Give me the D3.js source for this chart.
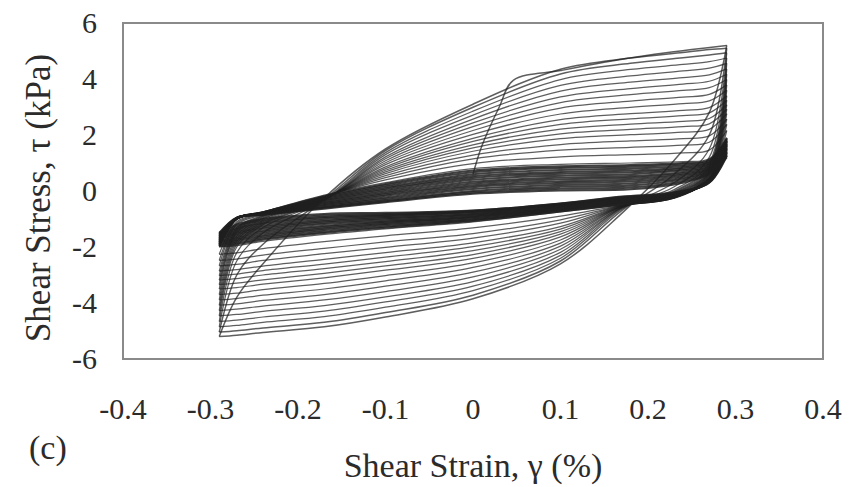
<!DOCTYPE html>
<html>
<head>
<meta charset="utf-8">
<script src="https://cdn.jsdelivr.net/npm/d3@7"></script>
<style>
  html, body { margin: 0; padding: 0; background: #fff; }
  svg { display: block; }
  text { font-family: "Liberation Serif", "Times New Roman", serif; fill: #2b2b2b; }
</style>
</head>
<body>
<svg id="chart" width="862" height="487"></svg>
<script>
// Axis ticks
const strainTicks = [-0.4, -0.3, -0.2, -0.1, 0, 0.1, 0.2, 0.3, 0.4];
const stressTicks = [6, 4, 2, 0, -2, -4, -6];

// Monotonic loading from rest to the first strain peak
const firstLoadStrain = [0, 0.01, 0.03, 0.046, 0.1, 0.15, 0.2, 0.25, 0.29];
const firstLoadStress = [0.6, 1.6, 3.0, 3.95, 4.3, 4.6, 4.85, 5.05, 5.2];

// Strain stations (%) along each half cycle
const unloadStrain = [0.29, 0.27, 0.23, 0.17, 0.1, 0, -0.1, -0.17, -0.24, -0.27, -0.29];
const reloadStrain = [-0.29, -0.27, -0.24, -0.17, -0.1, 0, 0.1, 0.18, 0.24, 0.27, 0.29];

// Number of early cycles with large stress amplitude; later ones are the flat loops
const earlyCycles = 18;

// Shear stress (kPa) at the unloading stations, one row per cycle
const unloadStress = [
  [5.2, 2.8, 1.1, -0.8, -2.6, -3.85, -4.5, -4.85, -5.05, -5.15, -5.2],
  [5.1, 2.0, 0.6, -0.7, -2.5, -3.72, -4.34, -4.69, -4.89, -4.99, -5.04],
  [4.94, 1.5, 0.3, -0.65, -2.4, -3.56, -4.15, -4.49, -4.69, -4.8, -4.85],
  [4.75, 1.2, 0.15, -0.62, -2.3, -3.4, -3.96, -4.29, -4.5, -4.61, -4.66],
  [4.56, 1.0, 0.05, -0.6, -2.19, -3.24, -3.78, -4.09, -4.3, -4.41, -4.46],
  [4.36, 0.9, 0.0, -0.6, -2.08, -3.07, -3.59, -3.89, -4.11, -4.22, -4.27],
  [4.17, 0.85, -0.03, -0.58, -1.97, -2.9, -3.4, -3.7, -3.91, -4.03, -4.08],
  [3.98, 0.8, -0.06, -0.58, -1.86, -2.73, -3.21, -3.5, -3.72, -3.84, -3.89],
  [3.79, 0.75, -0.08, -0.56, -1.75, -2.57, -3.02, -3.3, -3.52, -3.65, -3.7],
  [3.6, 0.7, -0.1, -0.56, -1.64, -2.41, -2.83, -3.1, -3.33, -3.45, -3.5],
  [3.4, 0.68, -0.12, -0.55, -1.54, -2.27, -2.67, -2.94, -3.17, -3.29, -3.34],
  [3.24, 0.65, -0.14, -0.55, -1.45, -2.13, -2.52, -2.77, -3.0, -3.13, -3.18],
  [3.08, 0.62, -0.16, -0.54, -1.36, -1.99, -2.36, -2.61, -2.84, -2.97, -3.02],
  [2.92, 0.6, -0.18, -0.53, -1.27, -1.85, -2.2, -2.44, -2.68, -2.81, -2.86],
  [2.76, 0.58, -0.2, -0.52, -1.15, -1.68, -2.01, -2.24, -2.48, -2.62, -2.67],
  [2.57, 0.55, -0.22, -0.52, -1.03, -1.52, -1.82, -2.05, -2.29, -2.43, -2.48],
  [2.38, 0.52, -0.24, -0.51, -0.9, -1.32, -1.6, -1.81, -2.06, -2.21, -2.26],
  [2.16, 0.5, -0.25, -0.5, -0.75, -1.1, -1.35, -1.55, -1.8, -1.95, -2.0],
  [1.9, 0.44, -0.24, -0.48, -0.73, -1.07, -1.31, -1.5, -1.74, -1.9, -1.97],
  [1.85, 0.43, -0.22, -0.46, -0.7, -1.04, -1.27, -1.45, -1.69, -1.85, -1.93],
  [1.8, 0.42, -0.21, -0.43, -0.68, -1.01, -1.22, -1.39, -1.63, -1.79, -1.9],
  [1.75, 0.41, -0.19, -0.41, -0.65, -0.97, -1.18, -1.34, -1.58, -1.74, -1.86],
  [1.7, 0.4, -0.18, -0.39, -0.63, -0.94, -1.14, -1.29, -1.52, -1.69, -1.83],
  [1.66, 0.39, -0.17, -0.37, -0.6, -0.91, -1.1, -1.24, -1.46, -1.64, -1.79],
  [1.61, 0.38, -0.15, -0.34, -0.58, -0.88, -1.06, -1.18, -1.41, -1.58, -1.76],
  [1.56, 0.37, -0.14, -0.32, -0.55, -0.85, -1.01, -1.13, -1.35, -1.53, -1.72],
  [1.51, 0.36, -0.12, -0.3, -0.53, -0.82, -0.97, -1.08, -1.3, -1.48, -1.69],
  [1.46, 0.35, -0.11, -0.28, -0.51, -0.79, -0.93, -1.03, -1.24, -1.43, -1.65],
  [1.41, 0.33, -0.1, -0.25, -0.48, -0.75, -0.89, -0.97, -1.18, -1.37, -1.62],
  [1.36, 0.32, -0.08, -0.23, -0.47, -0.73, -0.86, -0.93, -1.13, -1.32, -1.58],
  [1.31, 0.31, -0.07, -0.22, -0.45, -0.71, -0.82, -0.88, -1.06, -1.26, -1.54],
  [1.26, 0.3, -0.05, -0.2, -0.45, -0.7, -0.78, -0.82, -1.0, -1.2, -1.5]
];

// Shear stress (kPa) at the reloading stations, one row per cycle
const reloadStress = [
  [-5.2, -3.8, -2.6, -0.25, 1.5, 3.1, 4.35, 4.75, 4.95, 5.05, 5.1],
  [-5.04, -3.0, -1.9, -0.3, 1.44, 2.99, 4.18, 4.56, 4.76, 4.86, 4.94],
  [-4.85, -2.5, -1.5, -0.32, 1.37, 2.85, 3.98, 4.34, 4.52, 4.62, 4.75],
  [-4.66, -2.2, -1.3, -0.33, 1.3, 2.71, 3.77, 4.11, 4.29, 4.39, 4.56],
  [-4.46, -2.0, -1.2, -0.33, 1.22, 2.57, 3.57, 3.89, 4.05, 4.15, 4.36],
  [-4.27, -1.9, -1.15, -0.32, 1.15, 2.43, 3.36, 3.66, 3.82, 3.92, 4.17],
  [-4.08, -1.8, -1.1, -0.31, 1.08, 2.3, 3.16, 3.44, 3.59, 3.69, 3.98],
  [-3.89, -1.7, -1.05, -0.3, 1.01, 2.16, 2.96, 3.21, 3.35, 3.45, 3.79],
  [-3.7, -1.6, -1.0, -0.29, 0.94, 2.02, 2.75, 2.99, 3.12, 3.22, 3.6],
  [-3.5, -1.5, -0.98, -0.28, 0.86, 1.88, 2.55, 2.76, 2.88, 2.98, 3.4],
  [-3.34, -1.45, -0.95, -0.27, 0.8, 1.77, 2.38, 2.58, 2.69, 2.79, 3.24],
  [-3.18, -1.4, -0.92, -0.26, 0.74, 1.65, 2.21, 2.39, 2.49, 2.59, 3.08],
  [-3.02, -1.35, -0.9, -0.25, 0.68, 1.54, 2.04, 2.2, 2.3, 2.4, 2.92],
  [-2.86, -1.3, -0.88, -0.24, 0.62, 1.42, 1.87, 2.01, 2.1, 2.2, 2.76],
  [-2.67, -1.2, -0.85, -0.22, 0.55, 1.28, 1.66, 1.79, 1.87, 1.97, 2.57],
  [-2.48, -1.15, -0.82, -0.2, 0.48, 1.15, 1.46, 1.56, 1.64, 1.74, 2.38],
  [-2.26, -1.1, -0.8, -0.18, 0.4, 0.98, 1.22, 1.3, 1.36, 1.46, 2.16],
  [-2.0, -1.0, -0.75, -0.15, 0.3, 0.8, 0.95, 1.0, 1.05, 1.15, 1.9],
  [-1.97, -1.0, -0.76, -0.19, 0.25, 0.73, 0.88, 0.93, 1.0, 1.11, 1.85],
  [-1.93, -0.99, -0.76, -0.22, 0.2, 0.67, 0.82, 0.87, 0.95, 1.07, 1.8],
  [-1.9, -0.99, -0.77, -0.26, 0.14, 0.6, 0.75, 0.8, 0.89, 1.03, 1.75],
  [-1.86, -0.99, -0.78, -0.29, 0.09, 0.53, 0.68, 0.73, 0.84, 1.0, 1.7],
  [-1.83, -0.98, -0.79, -0.33, 0.04, 0.47, 0.62, 0.67, 0.79, 0.96, 1.66],
  [-1.79, -0.98, -0.79, -0.36, -0.02, 0.4, 0.55, 0.6, 0.74, 0.92, 1.61],
  [-1.76, -0.98, -0.8, -0.4, -0.07, 0.33, 0.48, 0.53, 0.68, 0.88, 1.56],
  [-1.72, -0.97, -0.81, -0.43, -0.12, 0.27, 0.42, 0.47, 0.63, 0.84, 1.51],
  [-1.69, -0.97, -0.81, -0.47, -0.17, 0.2, 0.35, 0.4, 0.58, 0.8, 1.46],
  [-1.65, -0.97, -0.82, -0.5, -0.23, 0.14, 0.29, 0.34, 0.53, 0.77, 1.41],
  [-1.62, -0.96, -0.83, -0.54, -0.28, 0.07, 0.22, 0.27, 0.47, 0.73, 1.36],
  [-1.58, -0.96, -0.83, -0.57, -0.33, 0.0, 0.15, 0.2, 0.42, 0.69, 1.31],
  [-1.54, -0.95, -0.84, -0.6, -0.37, -0.05, 0.08, 0.13, 0.36, 0.64, 1.26],
  [-1.5, -0.95, -0.85, -0.63, -0.4, -0.1, 0.02, 0.06, 0.3, 0.6, 1.2]
];

const svg = d3.select("#chart");
const plot = { left: 123, right: 823, top: 23, bottom: 359 };

const x = d3.scaleLinear().domain([-0.4, 0.4]).range([plot.left, plot.right]);
const y = d3.scaleLinear().domain([-6, 6]).range([plot.bottom, plot.top]);

const line = d3.line()
  .x(d => x(d[0]))
  .y(d => y(d[1]))
  .curve(d3.curveCatmullRom.alpha(0.5));

// Half-cycle branches in test order, tagged with their cycle number
const branches = [];
branches.push({ cycle: 0, pts: firstLoadStrain.map((s, i) => [s, firstLoadStress[i]]) });
unloadStress.forEach((row, c) => {
  branches.push({ cycle: c, pts: unloadStrain.map((s, i) => [s, row[i]]) });
  branches.push({ cycle: c, pts: reloadStrain.map((s, i) => [s, reloadStress[c][i]]) });
});

const loops = svg.append("g").attr("class", "loops");
loops.selectAll("path")
  .data(branches)
  .join("path")
  .attr("d", d => line(d.pts))
  .attr("fill", "none")
  .attr("stroke", "#202020")
  .attr("stroke-opacity", d => d.cycle < earlyCycles ? 0.72 : 0.85)
  .attr("stroke-width", d => d.cycle < 2 ? 1.5 : (d.cycle < earlyCycles ? 1.25 : 2.1))
  .attr("stroke-linejoin", "round");

// Plot frame
svg.append("rect")
  .attr("x", plot.left)
  .attr("y", plot.top)
  .attr("width", plot.right - plot.left)
  .attr("height", plot.bottom - plot.top)
  .attr("fill", "none")
  .attr("stroke", "#8a8a8a")
  .attr("stroke-width", 2);

// Tick labels (plain hyphen for negatives)
svg.append("g").selectAll("text")
  .data(strainTicks)
  .join("text")
  .attr("x", d => x(d))
  .attr("y", 419)
  .attr("text-anchor", "middle")
  .attr("font-size", 30)
  .text(d => String(d));

svg.append("g").selectAll("text")
  .data(stressTicks)
  .join("text")
  .attr("x", 97)
  .attr("y", d => y(d) + 10)
  .attr("text-anchor", "end")
  .attr("font-size", 30)
  .text(d => String(d));

// Axis titles
svg.append("text")
  .attr("x", (plot.left + plot.right) / 2)
  .attr("y", 477)
  .attr("text-anchor", "middle")
  .attr("font-size", 34)
  .text("Shear Strain, γ (%)");

svg.append("text")
  .attr("transform", "translate(50,198) rotate(-90)")
  .attr("text-anchor", "middle")
  .attr("font-size", 35)
  .text("Shear Stress, τ  (kPa)");

svg.append("text")
  .attr("x", 29)
  .attr("y", 459)
  .attr("font-size", 34)
  .text("(c)");
</script>
</body>
</html>
